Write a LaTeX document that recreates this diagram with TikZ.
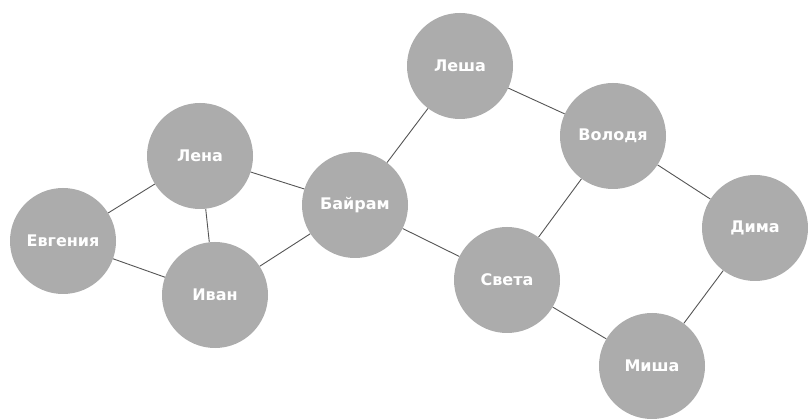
\documentclass[tikz,border=0pt]{standalone}
\usepackage{fontspec}
\setmainfont{DejaVu Sans}
\definecolor{nodegray}{RGB}{172,172,172}
\definecolor{edgegray}{RGB}{85,85,85}
\begin{document}
\begin{tikzpicture}[x=1pt,y=-1pt,
  person/.style={circle, fill=nodegray, minimum size=106pt, inner sep=0pt,
    text=white, font=\bfseries\fontsize{16}{18}\selectfont},
  link/.style={draw=edgegray, line width=0.9pt}]
\useasboundingbox[fill=white] (0,0) rectangle (808,419);
\node[person] (evg) at (63,241) {Евгения};
\node[person] (lena) at (200,156) {Лена};
\node[person] (ivan) at (215,295) {Иван};
\node[person] (bay) at (355,205) {Байрам};
\node[person] (lesha) at (460,66) {Леша};
\node[person] (vol) at (613,136) {Володя};
\node[person] (dima) at (755,228) {Дима};
\node[person] (sveta) at (507,280) {Света};
\node[person] (misha) at (652,366) {Миша};
\path[link] (evg) -- (lena);
\path[link] (evg) -- (ivan);
\path[link] (lena) -- (ivan);
\path[link] (lena) -- (bay);
\path[link] (ivan) -- (bay);
\path[link] (bay) -- (lesha);
\path[link] (bay) -- (sveta);
\path[link] (lesha) -- (vol);
\path[link] (vol) -- (sveta);
\path[link] (vol) -- (dima);
\path[link] (dima) -- (misha);
\path[link] (sveta) -- (misha);
\end{tikzpicture}
\end{document}
